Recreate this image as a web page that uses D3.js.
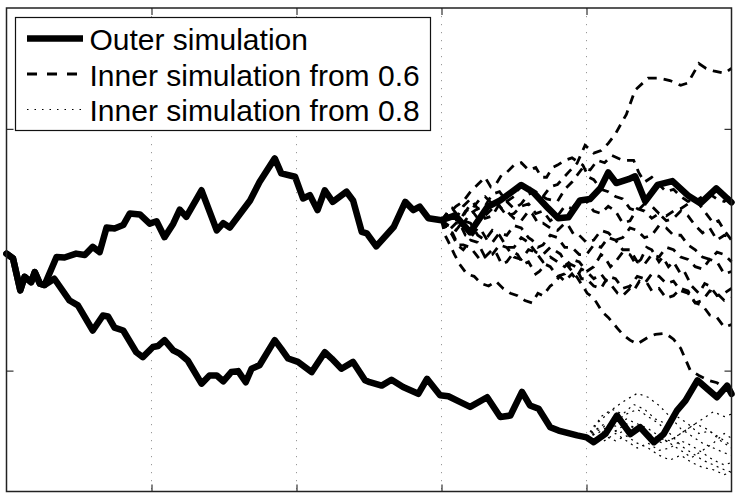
<!DOCTYPE html>
<html>
<head>
<meta charset="utf-8">
<script src="https://cdn.jsdelivr.net/npm/d3@7"></script>
<style>
  html, body { margin: 0; padding: 0; background: #fff; }
  svg { display: block; }
</style>
</head>
<body>
<script>
// ---------------- DATA ----------------
// time axis 0..100 (fraction of horizon in %), value axis 0..100
const xGridTicks = [20, 40, 60, 80];
const yTicks = [25, 75];
const legendLabels = ["Outer simulation", "Inner simulation from 0.6", "Inner simulation from 0.8"];

// shared start of both outer paths
const outerStart = [[0,49.2],[0.9,48.2],[1.9,41.6],[2.5,44.4],[3.4,43.3],[3.9,45.4],[4.6,43.0],[5.25,42.7]];

const outerUpper = [[6.9,48.5],[8.0,48.4],[9.6,49.2],[10.8,48.9],[11.9,50.6],[12.85,49.5],[13.8,54.6],[14.9,54.4],
  [16.1,55.1],[17.0,57.5],[18.4,57.3],[19.75,55.4],[20.7,55.9],[21.8,52.6],[23.0,55.4],[23.9,58.3],[24.8,56.8],
  [26.9,62.3],[29.0,54.0],[29.9,55.5],[30.8,54.6],[33.6,60.2],[34.9,64.0],[37.0,68.9],[37.9,65.8],[39.8,65.1],
  [40.9,60.6],[41.85,61.3],[42.9,58.2],[43.9,62.3],[45.0,59.9],[46.9,62.0],[47.8,60.2],[49.0,53.7],[49.7,53.4],
  [51.0,50.7],[53.4,54.7],[55.0,59.9],[56.1,58.2],[57.0,58.9],[58.2,56.5],[60,56.1],[61.9,57.1],[63.95,53.6],
  [66.3,58.8],[68.1,60.2],[71.0,63.4],[72.65,61.9],[74.7,58.6],[76.1,56.5],[77.5,56.7],[79.1,60.2],[80.5,60.5],
  [81.9,62.7],[83.0,66.0],[84.1,63.8],[85.8,64.6],[86.7,65.2],[88.1,60.0],[89.8,63.4],[91.85,64.2],[94.1,61.1],
  [95.7,59.6],[97.9,62.7],[100,59.8]];

const outerLower = [[6.6,44.0],[8.7,39.5],[9.85,38.5],[11.9,33.3],[13.3,36.4],[14.0,36.2],[14.9,33.9],[16.1,33.3],
  [17.9,28.8],[18.8,27.8],[20.2,29.9],[20.9,30.1],[21.8,31.3],[23.0,29.2],[23.9,28.5],[25.0,27.1],[26.9,22.3],
  [28.0,24.0],[29.0,24.0],[29.9,22.8],[31.0,24.7],[31.95,24.9],[33.0,22.6],[33.8,25.4],[34.9,26.1],[37.0,31.3],
  [37.9,29.5],[38.85,27.5],[40.2,26.8],[42.1,24.7],[43.9,28.8],[44.85,27.5],[46.2,25.4],[47.8,26.8],[49.45,23.0],
  [50.1,22.6],[51.75,21.9],[53.1,23.1],[54.7,21.6],[56.8,20.2],[58.0,23.3],[59.8,19.9],[60.95,19.7],[62.6,18.5],
  [63.95,17.5],[66.3,19.5],[68.1,15.4],[69.5,15.7],[71.1,20.6],[72.2,17.8],[73.4,17.1],[75.0,13.3],[76.15,12.6],
  [78.7,11.6],[80,11.2],[81.0,10.2],[82.6,11.9],[84.2,15.7],[86.05,11.9],[87.4,13.3],[89.3,10.2],[90.65,11.9],
  [92.5,16.8],[93.65,18.8],[95.3,23.0],[96.6,21.3],[98.0,19.5],[99.4,21.9],[100,20.2]];

// inner simulations started at t = 60 from the upper outer path (value 56.1)
const inner06 = [
  [[60,56.1],[61,57.5],[62,56.5],[63,59],[64,60.5],[65,58.5],[66,59],[67,61.5],[68,62],[69,60],[70,61],[71,63.5],[72,63],
   [73,61.5],[74,61],[75,63],[76,63.5],[77.5,66],[78.7,67.9],[79.8,71.6],[81,70],[82,70.5],[83,72],[84,74],[85.5,78],
   [86.7,83],[88.5,85.5],[90,85.5],[91.5,85],[93,84],[94,84.5],[95.5,88.5],[96.5,87.5],[97.5,87],[99,86.5],[100,87.5]],
  [[60,56.1],[61,58],[61.5,57.5],[62.5,55],[63,55.5],[64,57.5],[65,58.5],[66,56.5],[67,57],[68,59.5],[69,60],[70,58.5],
   [71,59.5],[72,61.5],[73,62],[74.5,60.5],[76,60],[77,62.5],[78,64],[79.5,67],[80.5,66.5],[81.5,68.5],[82.5,68],
   [83.5,69.5],[85,68.5],[86.5,68.5],[87.2,66],[88,64],[89,65],[90,63.5],[91,62],[92,62.5],[93,61],[94,60],[95,60.5],
   [96,58.5],[97.5,55.5],[98.2,56],[99,54],[100,52]],
  [[60,56.1],[61,58],[61.8,56.5],[62.5,56],[63.3,58],[64,58.5],[65,56.5],[66,57],[67,58.5],[68,59],[69,57],[70,57.5],
   [71,59],[72,59.5],[73,57.5],[74,58],[75,56],[76,57],[77,59],[78,58.5],[79,60.5],[80,60],[81,58],[82,57.5],[83,59],
   [84,58],[85,55.5],[86,56],[87,58.5],[88,58],[89,56.5],[90,57.5],[91,56],[92,56.5],[93,58],[94,57],[95,55],[96,53.5],
   [97,54.5],[98,52],[99,53],[100,52.5]],
  [[60,56.1],[61,55],[62,54],[63,56],[64,55.5],[65,53],[66,52],[67,54],[68,53],[69,50.5],[70,50.5],[71,52.5],[72,51.5],
   [73,49.5],[74,49],[75,50.5],[76.4,49.1],[77.5,46.5],[78.7,44.3],[80.1,41.0],[81,40],[82.2,37.1],[83,36],[84.3,33.7],
   [85,32.5],[86,31.3],[87,30.5],[88.5,31.9],[89.5,32.5],[90.9,32.7],[92,31.5],[93,29.6],[94.3,25.1],[95.5,24],
   [96.8,23.0],[98,22.5],[99.2,21.3],[100,20.5]],
  [[60,56.1],[60.8,54.5],[61.5,53],[62.2,51],[63,50],[64,52],[65,51.5],[66,48.5],[67,49],[68,51],[69,50.5],[70,48.5],
   [71,48],[72,50],[73,49.5],[74,47.5],[75,48.5],[76,47.5],[77,46.5],[78,48],[79,47.5],[80,45.5],[81,46.5],[82,49],
   [82.5,48.5],[83.3,46.5],[84,47.5],[85,49.5],[86,49],[86.8,47],[87.5,48],[88.3,50.5],[89,50],[90,47.5],[90.5,48.5],
   [91.3,46.5],[92,47.5],[93,45],[93.5,45.5],[94.5,42.5],[95.5,41],[96.3,43],[97,42.5],[98,40.5],[99,41],[100,42]],
  [[60,56.1],[60.8,54],[61.5,53.5],[62.3,51],[63,51],[64,50.5],[64.5,49.5],[65.3,48],[66,48.5],[67,50],[67.5,49.5],
   [68.3,47],[69,47.5],[70,49.5],[70.5,49],[71.3,47],[72,47.5],[73,45],[73.5,45.5],[74.3,47],[75,46.5],[76,44.5],
   [77,45],[77.8,47],[78.5,46.5],[79.3,44],[80,44],[81,42.5],[82,42],[83,44.5],[84,44],[85,42],[86,42.5],[87,44.5],
   [88,44],[89,41.5],[90,42],[91,40],[92,40.5],[93,42],[94,41.5],[95,39],[96,38.5],[97,36.5],[98,36],[99,34],[100,34.5]],
  [[60,56.1],[60.5,53],[61,51.5],[61.8,49],[62.5,47],[63.5,45],[64.5,44.5],[65.5,43],[66.5,42.5],[67.5,43.5],
   [68.5,42],[69.5,41],[70.5,40.5],[71.5,39.5],[72.5,39],[73.3,41],[74,40.5],[75,42.5],[75.5,43],[76.3,44.5],[77,43.5],
   [78,45],[78.5,44],[79.3,46],[80,45.5],[81,44],[82,45],[83,43],[83.5,42.5],[84.3,41],[85,40.5],[86,42],[86.5,41.5],
   [87.3,43.5],[88,43],[89,45],[90,44.5],[91,43],[92,43.5],[93,41.5],[94,41],[95,39],[96,39.5],[97,41.5],[98,41],
   [99,39.5],[100,40]],
  [[60,56.1],[61,57],[61.5,58.5],[62.3,57],[63,57],[64,59.5],[64.5,59],[65.3,60.5],[66,61],[67,59.5],[67.5,60],
   [68.3,58.5],[69,58],[70,56.5],[71,56],[72,58],[72.5,57.5],[73.3,55.5],[74,55.5],[75,54.5],[76,54],[77,55.5],
   [77.5,55],[78.3,53],[79,53],[80,51.5],[81,52],[82,54],[83,53.5],[84,52],[85,52.5],[86,54.5],[87,54],[88,52.5],
   [89,53],[90,55],[91,54.5],[92,53],[93,53],[94,51],[95,50],[96,48.5],[97,48],[98,49.5],[99,49],[100,47.5]],
  [[60,56.1],[61,57.5],[62,59],[63,60],[64,62],[65,63.5],[66,65],[66.8,63],[67.5,63.5],[68.3,65.5],[69,66],[70,67.5],
   [71,68],[72,66.5],[73,67],[73.8,65],[74.5,65],[75.3,67],[76,67.5],[77,68.5],[78,69],[79,68],[79.5,67.5],[80.3,65],
   [81,64.5],[82,62.5],[83,62],[84,61],[85,60.5],[86,58.5],[87,58],[88,59.5],[89,59],[90,57.5],[91,57],[92,58],
   [93,58.5],[94,59.5],[95,60],[96,61],[97,61.5],[98,60.5],[99,60],[100,61]],
  [[60,56.1],[60.8,55],[61,54],[62,55.5],[62.5,55.5],[63.3,53],[64,52.5],[65,54.5],[65.5,54],[66.3,52],[67,51.5],
   [68,53.5],[69,53],[70,55],[71,54.5],[72,52.5],[72.5,52],[73.3,50.5],[74,51],[75,53],[76,52.5],[77,50.5],[78,50.5],
   [79,49],[80,49],[81,51],[82,50.5],[83,52.5],[84,52],[85,50],[86,50],[87,47.5],[88,47],[89,49],[90,48.5],[91,50.5],
   [92,50],[93,48.5],[94,48],[95,46.5],[96,46],[97,48],[98,47.5],[99,45],[100,45.5]]
];

// inner simulations started at t = 80 from the lower outer path (value 11.2)
const inner08 = [
  [[80,11.2],[81,13.5],[82.5,15.5],[84,17.5],[85.5,19],[87,20.3],[88.5,19.5],[90,17.8],[91.5,15.5],[93,13],[94.5,11.5],
   [96,10],[97.5,9],[99,8],[100,7.5]],
  [[80,11.2],[81.5,13],[82.5,12],[84,14.5],[85.5,16],[87,17],[88.5,15.5],[90,14],[91.5,12],[93,9.5],[94.5,8],[96,6.5],
   [97.5,5.5],[99,4.5],[100,4]],
  [[80,11.2],[81,12.5],[82.5,14],[84,13.5],[85.5,15],[87,14],[88.5,13],[90,11.5],[91.5,10],[93,8.5],[94.5,7],[96,8.5],
   [97.5,10],[99,12],[100,11]],
  [[80,11.2],[81,12],[82.5,13.5],[84,12.5],[85.5,14],[87,13],[88.5,12],[90,11],[91.5,10.5],[93,12],[94.5,13.5],[96,15],
   [97.5,16.5],[99,15.5],[100,16]],
  [[80,11.2],[81,10],[82.5,11.5],[84,10.5],[85.5,11.5],[87,10],[88.5,9],[90,7.5],[91.5,6.5],[93,7.5],[94.5,6],[96,5],
   [97.5,4.5],[99,3.5],[100,4]],
  [[80,11.2],[81.5,12],[83,13.5],[84.5,12],[86,13.5],[87.5,12.5],[89,11],[90.5,10],[92,11],[93.5,12.5],[95,14],[96.5,13],
   [98,11.5],[99.5,10],[100,9.5]],
  [[80,11.2],[81,13],[82,15.5],[83.5,17],[85,16],[86.5,18],[88,17],[89.5,15],[91,14],[92.5,15.5],[94,14],[95.5,12],
   [97,12.5],[98.5,10.5],[100,9]],
  [[80,11.2],[81,11.8],[82.5,10.5],[84,12],[85.5,10.5],[87,9],[88.5,10],[90,8.5],[91.5,9],[93,10.5],[94.5,9.5],[96,8],
   [97.5,6.5],[99,5.5],[100,6]]
];

// ---------------- DRAW ----------------
const W = 739, H = 494;
const L = 6.5, R = 731.5, T = 8, B = 491.5;

const svg = d3.select("body").append("svg").attr("width", W).attr("height", H);

const x = d3.scaleLinear().domain([0, 100]).range([L, R]);
const y = d3.scaleLinear().domain([0, 100]).range([B, T]);

// vertical dotted grid
svg.append("g").selectAll("line").data(xGridTicks).join("line")
  .attr("x1", d => x(d)).attr("x2", d => x(d)).attr("y1", T).attr("y2", B)
  .attr("stroke", "#999").attr("stroke-width", 1).attr("stroke-dasharray", "1.2,6.8");

// ticks via axes (inward, no labels)
const tickLen = 7;
svg.append("g").attr("transform", `translate(0,${B})`)
  .call(d3.axisTop(x).tickValues(xGridTicks).tickSize(tickLen).tickFormat(""))
  .call(g => g.select(".domain").remove());
svg.append("g").attr("transform", `translate(0,${T})`)
  .call(d3.axisBottom(x).tickValues(xGridTicks).tickSize(tickLen).tickFormat(""))
  .call(g => g.select(".domain").remove());
svg.append("g").attr("transform", `translate(${L},0)`)
  .call(d3.axisRight(y).tickValues(yTicks).tickSize(tickLen).tickFormat(""))
  .call(g => g.select(".domain").remove());
svg.append("g").attr("transform", `translate(${R},0)`)
  .call(d3.axisLeft(y).tickValues(yTicks).tickSize(tickLen).tickFormat(""))
  .call(g => g.select(".domain").remove());
svg.selectAll(".tick line").attr("stroke", "#333").attr("stroke-width", 1.2);

const line = d3.line().x(d => x(d[0])).y(d => y(d[1]));

// inner from 0.8 (dotted)
svg.append("g").selectAll("path").data(inner08).join("path")
  .attr("d", line).attr("fill", "none").attr("stroke", "#000")
  .attr("stroke-width", 1.2).attr("stroke-dasharray", "2,4.5");

// inner from 0.6 (dashed)
svg.append("g").selectAll("path").data(inner06).join("path")
  .attr("d", line).attr("fill", "none").attr("stroke", "#000")
  .attr("stroke-width", 2.8).attr("stroke-dasharray", "9,7");

// outer simulations
const outerPaths = [outerStart.concat(outerUpper), outerStart.concat(outerLower)];
svg.append("g").selectAll("path").data(outerPaths).join("path")
  .attr("d", line).attr("fill", "none").attr("stroke", "#000")
  .attr("stroke-width", 6.5).attr("stroke-linejoin", "round").attr("stroke-linecap", "round");

// frame
svg.append("rect").attr("x", L).attr("y", T).attr("width", R - L).attr("height", B - T)
  .attr("fill", "none").attr("stroke", "#222").attr("stroke-width", 1.5);

// legend
const lg = svg.append("g");
lg.append("rect").attr("x", 15.5).attr("y", 17.5).attr("width", 415).attr("height", 113)
  .attr("fill", "#fff").attr("stroke", "#111").attr("stroke-width", 1.2);
const styles = [
  {w: 6.5, dash: null},
  {w: 2.8, dash: "10,10"},
  {w: 1.2, dash: "1.5,6"}
];
legendLabels.forEach((lab, i) => {
  const cy = 38.5 + i * 35.5;
  lg.append("line").attr("x1", 27).attr("x2", 83).attr("y1", cy).attr("y2", cy)
    .attr("stroke", "#000").attr("stroke-width", styles[i].w)
    .attr("stroke-dasharray", styles[i].dash);
  lg.append("text").attr("x", 89.5).attr("y", cy + 11.5)
    .attr("font-family", "'Liberation Sans', Arial, Helvetica, sans-serif")
    .attr("font-size", 30).attr("fill", "#000").text(lab);
});
</script>
</body>
</html>
